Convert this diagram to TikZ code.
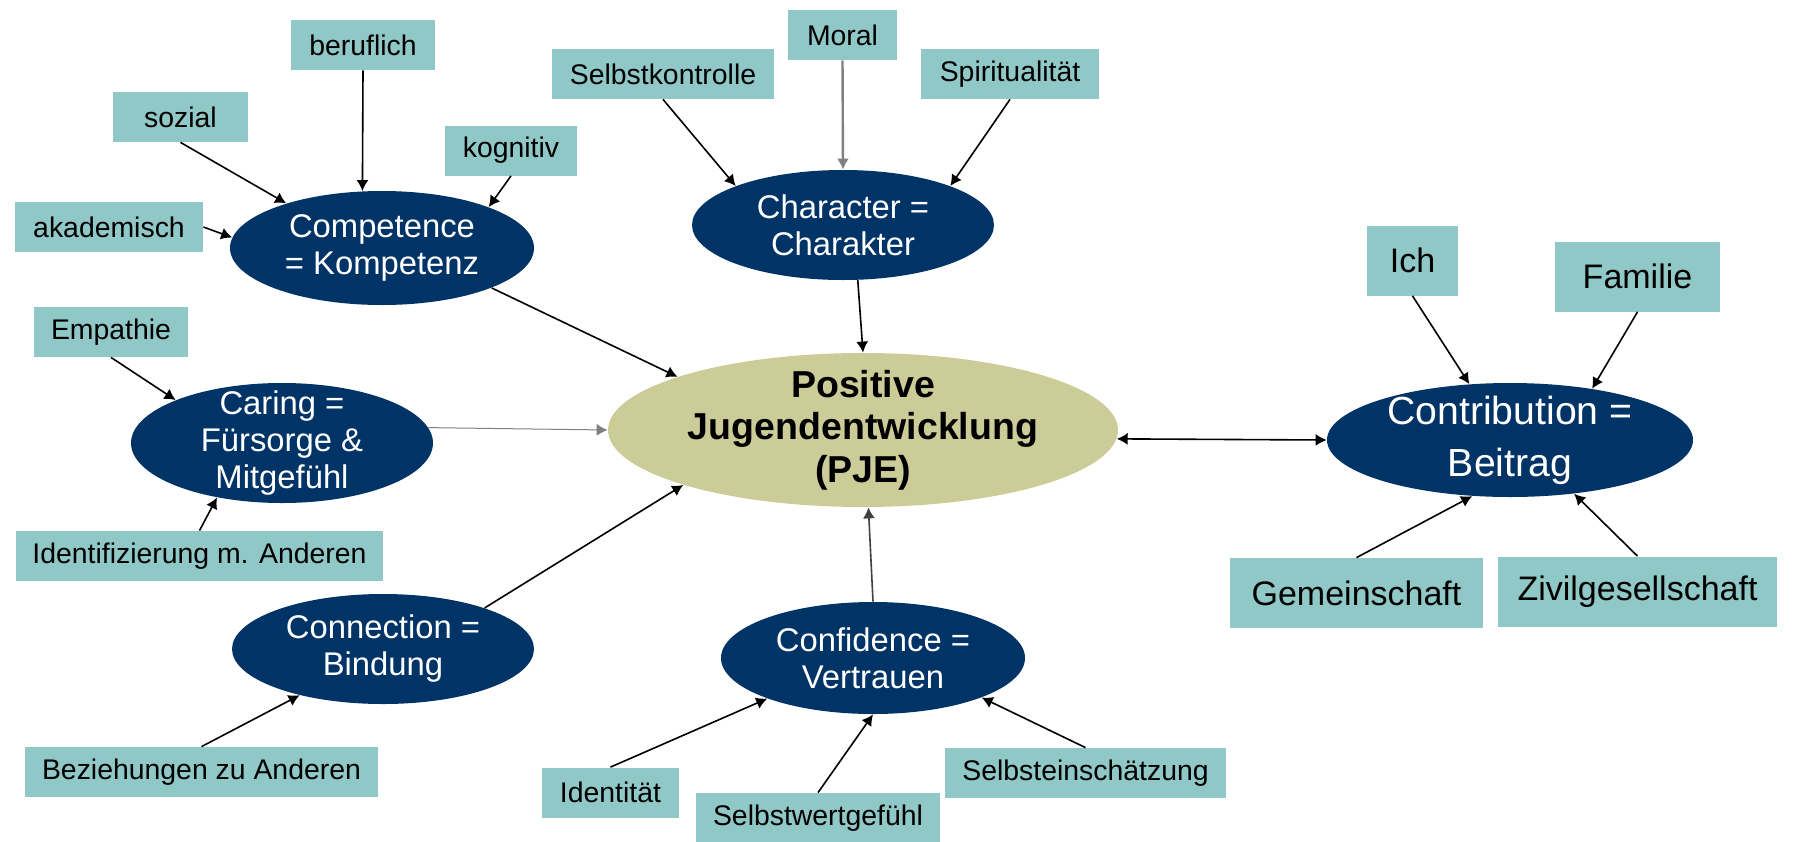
\documentclass[tikz,border=0pt]{standalone}
\usepackage{fontspec}
\setmainfont{Liberation Sans}
\usepackage{tikz}
\usetikzlibrary{arrows.meta}
\usetikzlibrary{shapes.geometric}
\definecolor{attrib}{RGB}{143,200,199}
\definecolor{navy}{RGB}{0,51,102}
\definecolor{khaki}{RGB}{204,204,153}
\tikzset{>={Latex[length=5.5pt,width=6pt]}}
\tikzset{
	attr/.style={fill=attrib,text=black,inner sep=0pt,minimum height=25pt,font=\fontsize{14.2}{16}\selectfont},
	attrbig/.style={attr,minimum height=35pt,font=\fontsize{17}{20}\selectfont},
	cee/.style={ellipse,fill=navy,text=white,align=center,inner xsep=0pt,inner ysep=-8pt,font=\fontsize{16.4}{18.5}\selectfont},
	link/.style={->,line width=0.8pt}
}

\begin{document}
\begin{tikzpicture}[x=0.5pt,y=-0.5pt]
	\useasboundingbox (0,0) rectangle (1803,841);
	% the six C's and the centre
	\node[cee,minimum width=152pt,minimum height=57pt] (comp) at (382,248) {Competence\\= Kompetenz};
	\node[cee,minimum width=151pt,minimum height=55pt] (char) at (843,225) {Character =\\Charakter};
	\node[cee,fill=khaki,text=black,font=\bfseries\fontsize{18.75}{21.2}\selectfont,minimum width=255pt,minimum height=77pt] (pje) at (863,430) {Positive\\Jugendentwicklung\\(PJE)};
	\node[cee,minimum width=151pt,minimum height=60pt] (car) at (282,443) {Caring =\\Fürsorge \&\\Mitgefühl};
	\node[cee,minimum width=151pt,minimum height=55pt] (conn) at (383,649) {Connection =\\Bindung};
	\node[cee,minimum width=152pt,minimum height=56pt] (conf) at (873,658) {Confidence =\\Vertrauen};
	\node[cee,font=\fontsize{19.6}{26}\selectfont,minimum width=183pt,minimum height=57pt] (contr) at (1510,440) {Contribution =\\Beitrag};
	% aspects
	\node[attr,minimum width=72pt] (ber) at (363,45) {beruflich};
	\node[attr,minimum width=67.5pt] (soz) at (180.5,117) {sozial};
	\node[attr,minimum width=66pt] (kog) at (511,150.5) {kognitiv};
	\node[attr,minimum width=94pt] (aka) at (109,227) {akademisch};
	\node[attr,minimum width=111pt] (selk) at (663,74) {Selbstkontrolle};
	\node[attr,minimum width=54.5pt] (moral) at (842.5,35) {Moral};
	\node[attr,minimum width=89pt] (spir) at (1010,74) {Spiritualität};
	\node[attr,minimum width=77pt] (emp) at (111,332) {Empathie};
	\node[attr,minimum width=183.5pt] (ident) at (199.5,556) {Identifizierung m. Anderen};
	\node[attr,minimum width=176.5pt] (bez) at (201.5,772) {Beziehungen zu Anderen};
	\node[attr,minimum width=68.5pt] (idt) at (610.5,792.5) {Identität};
	\node[attr,minimum width=122pt] (swg) at (818,818) {Selbstwertgefühl};
	\node[attr,minimum width=140.5pt] (sest) at (1085.5,773) {Selbsteinschätzung};
	\node[attrbig,minimum width=45.5pt] (ich) at (1412.5,260.5) {Ich};
	\node[attrbig,minimum width=82.5pt] (fam) at (1637.5,276.5) {Familie};
	\node[attrbig,minimum width=126.5pt] (gem) at (1356.5,593) {Gemeinschaft};
	\node[attrbig,minimum width=139.5pt] (ziv) at (1637.5,591.5) {Zivilgesellschaft};
	% arrows
	\draw[link] (ber.south) -- (comp.109);
	\draw[link] (soz.south) -- (comp.155);
	\draw[link] (kog.south) -- (comp.21);
	\draw[link] (aka.east) -- (comp.176);
	\draw[link] (comp.-20) -- (pje.164);
	\draw[link] (selk.south) -- (char.160);
	\draw[link,gray,line width=1.2pt] (moral.south) -- (char.north);
	\draw[link] (spir.south) -- (char.20);
	\draw[link] (char.-75) -- (pje.north);
	\draw[link] (emp.south) -- (car.158);
	\draw[link] (ident.north) -- (car.220);
	\draw[link,gray,line width=0.5pt] (car.6) -- (pje.west);
	\draw[link] (conn.22) -- (pje.197);
	\draw[link] (bez.north) -- (conn.209);
	\draw[link,darkgray] (conf.north) -- (pje.-86);
	\draw[link] (idt.north) -- (conf.201);
	\draw[link] (swg.north) -- (conf.south);
	\draw[link] (sest.north) -- (conf.-20);
	\draw[<->,line width=0.8pt] (pje.-2) -- (contr.west);
	\draw[link] (ich.south) -- (contr.126);
	\draw[link] (fam.south) -- (contr.32);
	\draw[link] (gem.north) -- (contr.236);
	\draw[link] (ziv.north) -- (contr.-40);
\end{tikzpicture}
\end{document}
